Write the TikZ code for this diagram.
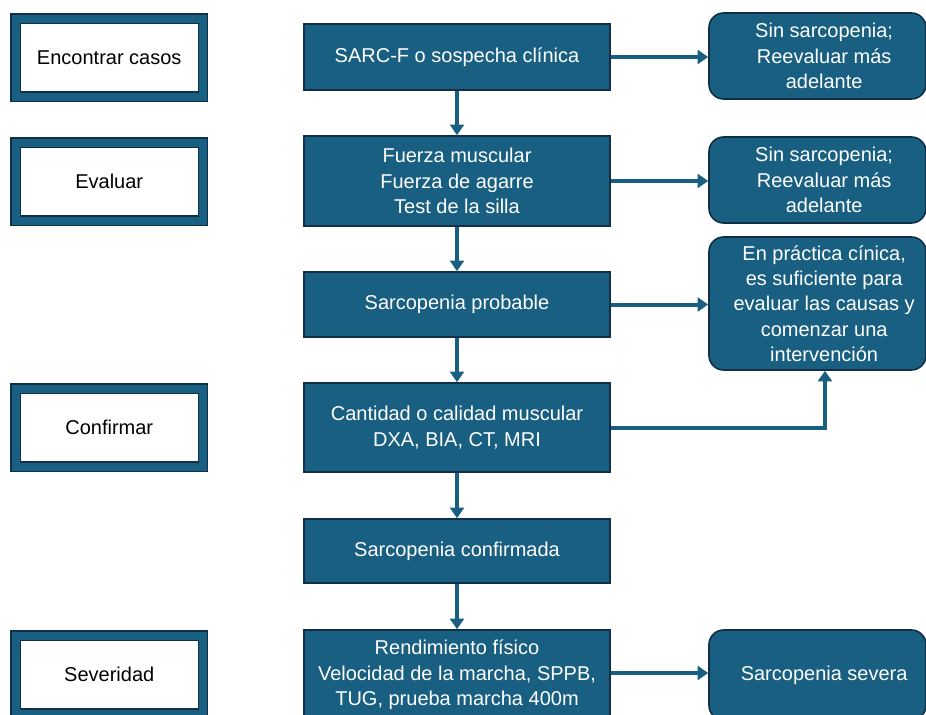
\documentclass[tikz,border=0pt]{standalone}
\usepackage{fontspec}
\setmainfont{Liberation Sans}
\usetikzlibrary{arrows.meta}
\definecolor{boxblue}{HTML}{185F81}
\definecolor{boxdark}{HTML}{0F3047}
\begin{document}
\begin{tikzpicture}[x=0.75pt,y=-0.75pt,
 every node/.style={font=\fontsize{15}{19}\selectfont, align=center},
 lbox/.style={draw=boxdark, double=boxblue, double distance=6pt, line width=1.1pt, fill=white, text=black, minimum width=140.6pt, minimum height=58.5pt},
 cbox/.style={draw=boxdark, line width=1.2pt, fill=boxblue, text=white, minimum width=229.5pt},
 rbox/.style={draw=boxdark, line width=1.2pt, fill=boxblue, rounded corners=11pt, minimum width=162.75pt},
 wtext/.style={text=white},
 arr/.style={draw=boxblue, line width=3pt, -{Triangle[width=10.5pt,length=8pt]}}]
\useasboundingbox (0,0) rectangle (926,715);
\clip (0,0) rectangle (926,715);
% left stage boxes
\node[lbox] (l1) at (109.25,57.5) {Encontrar casos};
\node[lbox] (l2) at (109.25,181.5) {Evaluar};
\node[lbox] (l3) at (109.25,427.5) {Confirmar};
\node[lbox] (l4) at (109.25,674.5) {Severidad};
% center column
\node[cbox, minimum height=49.5pt] (c1) at (457,57) {SARC-F o sospecha clínica};
\node[cbox, minimum height=67.5pt] (c2) at (457,181) {Fuerza muscular\\Fuerza de agarre\\Test de la silla};
\node[cbox, minimum height=48.75pt] (c3) at (457,304.5) {Sarcopenia probable};
\node[cbox, minimum height=66.75pt] (c4) at (457,427.5) {Cantidad o calidad muscular\\DXA, BIA, CT, MRI};
\node[cbox, minimum height=48pt] (c5) at (457,551) {Sarcopenia confirmada};
\node[cbox, minimum height=67.5pt] (c6) at (457,675) {Rendimiento físico\\Velocidad de la marcha, SPPB,\\TUG, prueba marcha 400m};
% right column
\node[rbox, minimum height=64.5pt] (r1) at (817.5,56) {};
\node[wtext] (t1) at ([xshift=5pt]r1.center) {Sin sarcopenia;\\Reevaluar más\\adelante};
\node[rbox, minimum height=64.5pt] (r2) at (817.5,180) {};
\node[wtext] (t2) at ([xshift=5pt]r2.center) {Sin sarcopenia;\\Reevaluar más\\adelante};
\node[rbox, minimum height=99.75pt] (r3) at (817.5,303.5) {};
\node[wtext] (t3) at ([xshift=5pt]r3.center) {En práctica cínica,\\es suficiente para\\evaluar las causas y\\comenzar una\\intervención};
\node[rbox, minimum height=67.5pt] (r4) at (817.5,675) {};
\node[wtext] (t4) at ([xshift=5pt]r4.center) {Sarcopenia severa};
% arrows
\draw[arr] (c1.south) -- (c2.north);
\draw[arr] (c2.south) -- (c3.north);
\draw[arr] (c3.south) -- (c4.north);
\draw[arr] (c4.south) -- (c5.north);
\draw[arr] (c5.south) -- (c6.north);
\draw[arr] (c1.east) -- (c1.east -| r1.west);
\draw[arr] (c2.east) -- (c2.east -| r2.west);
\draw[arr] (c3.east) -- (c3.east -| r3.west);
\draw[arr] ([yshift=1.5pt]c6.east) -- ([yshift=1.5pt]c6.east -| r4.west);
\draw[arr] (c4.east) -| ([xshift=5.6pt]r3.south);
\end{tikzpicture}
\end{document}
